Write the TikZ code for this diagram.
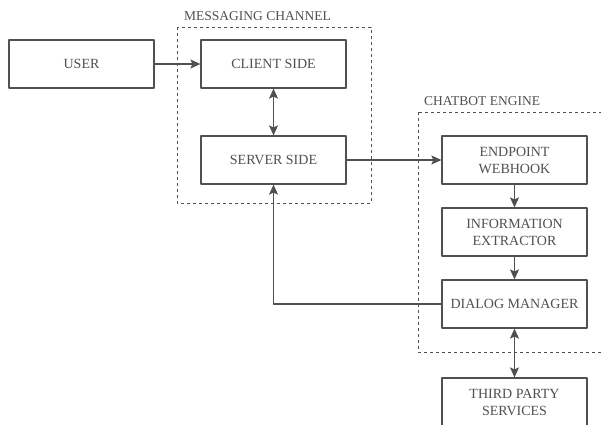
\documentclass[tikz,border=0pt]{standalone}
\usepackage{fontspec}
\setmainfont{Liberation Serif}
\usetikzlibrary{arrows.meta}
\definecolor{linegray}{HTML}{505050}
\definecolor{textgray}{HTML}{505050}
\tikzset{
  block/.style={draw=linegray, line width=1.2pt, fill=white, minimum width=145pt, minimum height=48pt,
    align=center, text=textgray, font=\rmfamily\fontsize{14}{17}\selectfont, inner sep=2pt},
  group/.style={draw=linegray, dashed, line width=0.8pt},
  grouplabel/.style={anchor=west, text=textgray, font=\rmfamily\fontsize{13.5}{16}\selectfont, inner sep=0pt},
  link/.style={draw=linegray, line width=1.2pt}
}
\begin{document}
\begin{tikzpicture}[x=1pt, y=-1pt, >={Stealth[length=10pt,width=9pt,inset=2pt]}, line join=round]
  \useasboundingbox (0,0) rectangle (601,424);
  \clip (0,0) rectangle (601,424);
  % groups
  \draw[group] (177,27) rectangle (371,203);
  \node[grouplabel] (msglabel) at (184,16) {MESSAGING CHANNEL};
  \draw[group] (418,112) rectangle (612,352);
  \node[grouplabel] (botlabel) at (424,101) {CHATBOT ENGINE};
  % blocks
  \node[block] (user) at (81.5,64) {USER};
  \node[block] (client) at (273.5,64) {CLIENT SIDE};
  \node[block] (server) at (273.5,160) {SERVER SIDE};
  \node[block] (endpoint) at (514.5,160) {ENDPOINT\\WEBHOOK};
  \node[block] (extractor) at (514.5,232) {INFORMATION\\EXTRACTOR};
  \node[block] (dialog) at (514.5,304) {DIALOG MANAGER};
  \node[block] (third) at (514.5,402) {THIRD PARTY\\SERVICES};
  % connectors
  \draw[link,->] (user) -- (client);
  \draw[link,<->] (client) -- (server);
  \draw[link,->] (server) -- (endpoint);
  \draw[link,->] (endpoint) -- (extractor);
  \draw[link,->] (extractor) -- (dialog);
  \draw[link,->] (dialog.west) -| (server.south);
  \draw[link,<->] (dialog) -- (third);
\end{tikzpicture}
\end{document}
